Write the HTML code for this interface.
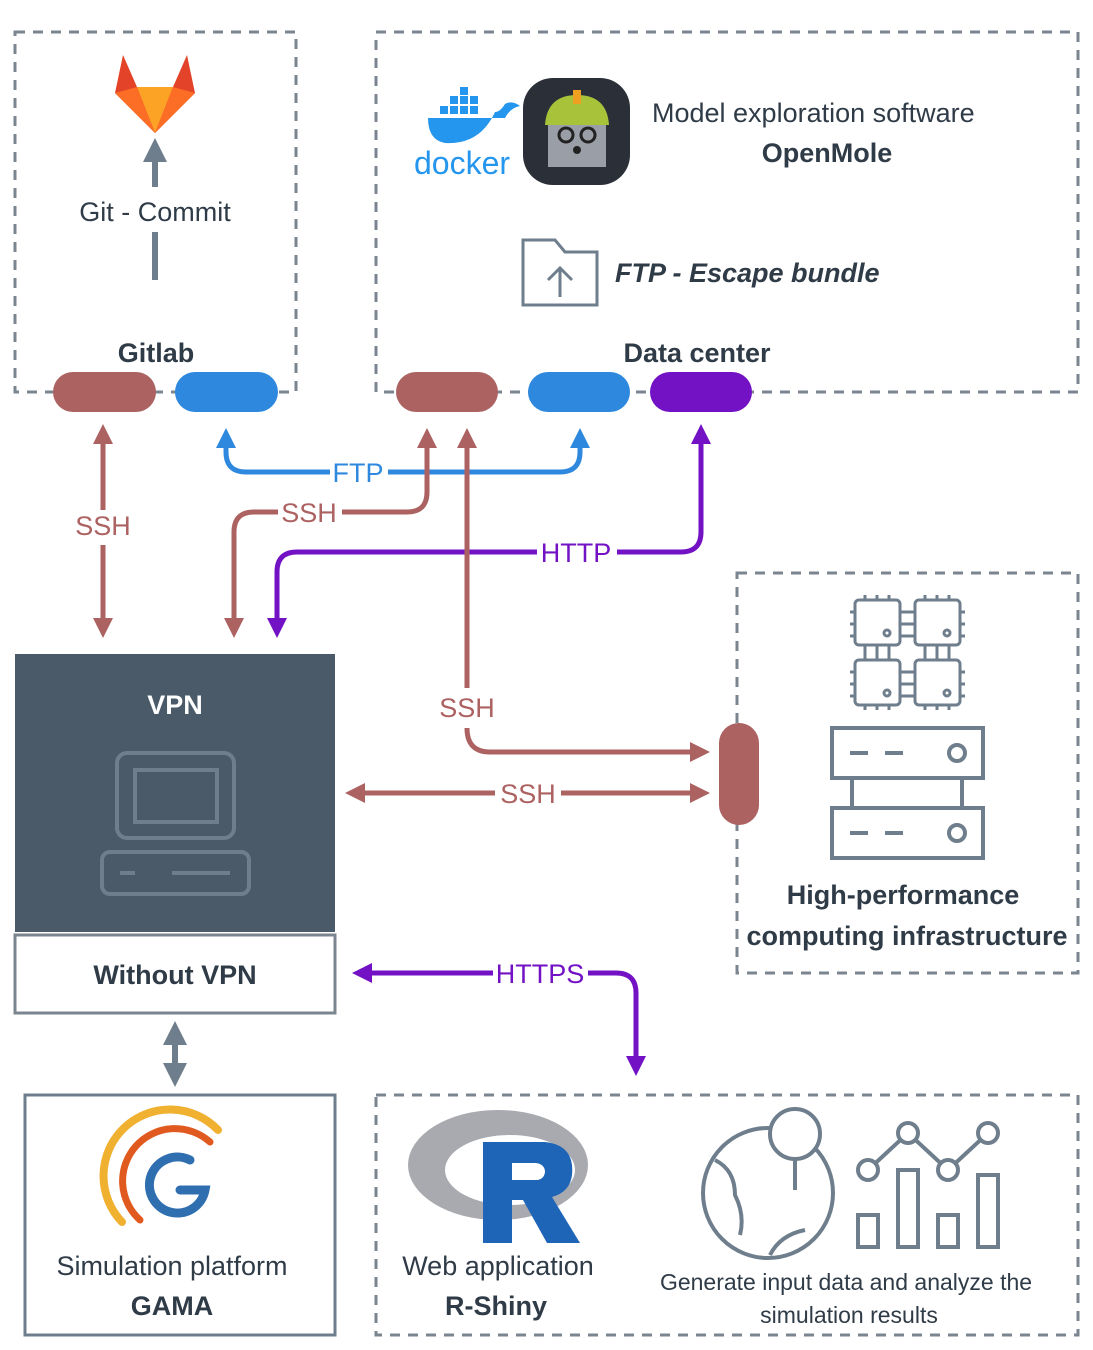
<!DOCTYPE html>
<html><head><meta charset="utf-8"><style>
html,body{margin:0;padding:0;background:#fff;}
svg{display:block;font-family:"Liberation Sans",sans-serif;}
</style></head><body>
<svg width="1093" height="1350" viewBox="0 0 1093 1350" xmlns="http://www.w3.org/2000/svg">
<defs>
<marker id="ar" viewBox="0 0 10 10" refX="5" refY="5" markerWidth="4" markerHeight="4" orient="auto-start-reverse"><path d="M0,0 L10,5 L0,10 z" fill="#ad6262"/></marker>
<marker id="ab" viewBox="0 0 10 10" refX="5" refY="5" markerWidth="4" markerHeight="4" orient="auto-start-reverse"><path d="M0,0 L10,5 L0,10 z" fill="#2e88dd"/></marker>
<marker id="ap" viewBox="0 0 10 10" refX="5" refY="5" markerWidth="4" markerHeight="4" orient="auto-start-reverse"><path d="M0,0 L10,5 L0,10 z" fill="#7212c4"/></marker>
<marker id="ag" viewBox="0 0 10 10" refX="5" refY="5" markerWidth="4" markerHeight="4" orient="auto-start-reverse"><path d="M0,0 L10,5 L0,10 z" fill="#6f7e8c"/></marker>
</defs>
<g fill="none" stroke="#7a8590" stroke-width="3" stroke-dasharray="10 8">
<rect x="15" y="32" width="281" height="360"/>
<rect x="376" y="32" width="702" height="360"/>
<rect x="737" y="573" width="341" height="400"/>
<rect x="376" y="1095" width="702" height="240"/>
</g>
<rect x="15" y="935" width="320" height="78" fill="#fff" stroke="#7a8590" stroke-width="3"/>
<!-- pills -->
<rect x="53" y="372" width="103" height="40" rx="20" fill="#ad6262"/>
<rect x="175" y="372" width="103" height="40" rx="20" fill="#2e88dd"/>
<rect x="396" y="372" width="102" height="40" rx="20" fill="#ad6262"/>
<rect x="528" y="372" width="102" height="40" rx="20" fill="#2e88dd"/>
<rect x="650" y="372" width="102" height="40" rx="20" fill="#7212c4"/>
<rect x="719" y="723" width="40" height="102" rx="20" fill="#ad6262"/>
<!-- gitlab logo -->
<g transform="translate(115,55)">
<path d="M40,78 L0,38 L8,0 L22,32 L58,32 L72,0 L80,38 Z" fill="#e24329"/>
<path d="M40,78 L22,32 L58,32 Z" fill="#fca326"/>
<path d="M0,38 L22,32 L40,78 Z" fill="#fc6d26"/>
<path d="M80,38 L58,32 L40,78 Z" fill="#fc6d26"/>
</g>
<line x1="155" y1="187" x2="155" y2="150" stroke="#6f7e8c" stroke-width="6" marker-end="url(#ag)"/>
<line x1="155" y1="232" x2="155" y2="280" stroke="#6f7e8c" stroke-width="6"/>
<g font-size="27" fill="#2f3b47">
<text x="155" y="221" text-anchor="middle">Git - Commit</text>
<text x="156" y="362" text-anchor="middle" font-weight="bold">Gitlab</text>
<text x="697" y="362" text-anchor="middle" font-weight="bold">Data center</text>
<text x="652" y="122">Model exploration software</text>
<text x="827" y="162" text-anchor="middle" font-weight="bold">OpenMole</text>
<text x="615" y="282" font-weight="bold" font-style="italic">FTP - Escape bundle</text>
<text x="903" y="904" text-anchor="middle" font-weight="bold">High-performance</text>
<text x="907" y="945" text-anchor="middle" font-weight="bold">computing infrastructure</text>
<text x="175" y="984" text-anchor="middle" font-weight="bold">Without VPN</text>
<text x="172" y="1275" text-anchor="middle">Simulation platform</text>
<text x="172" y="1315" text-anchor="middle" font-weight="bold">GAMA</text>
<text x="498" y="1275" text-anchor="middle">Web application</text>
<text x="496" y="1315" text-anchor="middle" font-weight="bold">R-Shiny</text>
</g>
<g font-size="23" fill="#2f3b47" text-anchor="middle">
<text x="846" y="1290">Generate input data and analyze the</text>
<text x="849" y="1323">simulation results</text>
</g>
<!-- docker -->
<g fill="#2496ed">
<path d="M428,118 L505,118 Q510,108 520,106 Q512,100 505,104 Q500,112 495,112 Q480,145 445,143 Q428,140 428,118 Z"/>
<rect x="440" y="106" width="8" height="8"/><rect x="450" y="106" width="8" height="8"/><rect x="460" y="106" width="8" height="8"/><rect x="470" y="106" width="8" height="8"/>
<rect x="450" y="96" width="8" height="8"/><rect x="460" y="96" width="8" height="8"/><rect x="470" y="96" width="8" height="8"/><rect x="460" y="87" width="8" height="8"/>
<text x="462" y="174" font-size="32" text-anchor="middle">docker</text>
</g>
<!-- openmole -->
<rect x="523" y="78" width="107" height="107" rx="30" fill="#2b2f38"/>
<path d="M545,125 Q547,95 577,95 Q607,95 609,125 Z" fill="#a8c23a"/>
<rect x="548" y="125" width="58" height="42" fill="#9a9ea6"/>
<circle cx="566" cy="135" r="7" fill="none" stroke="#222" stroke-width="3"/><circle cx="588" cy="135" r="7" fill="none" stroke="#222" stroke-width="3"/>
<circle cx="577" cy="150" r="4" fill="#222"/>
<rect x="573" y="90" width="8" height="14" fill="#f0a020"/>
<!-- folder -->
<path d="M523,240 L555,240 L565,252 L597,252 L597,305 L523,305 Z" fill="none" stroke="#6f7e8c" stroke-width="3"/>
<path d="M560,297 L560,268 M548,280 L560,268 L572,280" fill="none" stroke="#6f7e8c" stroke-width="3"/>
<!-- connectors -->
<g fill="none" stroke-width="5">
<line x1="103" y1="434" x2="103" y2="510" stroke="#ad6262" marker-start="url(#ar)"/>
<line x1="103" y1="545" x2="103" y2="628" stroke="#ad6262" marker-end="url(#ar)"/>
<path d="M226,438 L226,452 Q226,472 246,472 L330,472" stroke="#2e88dd" marker-start="url(#ab)"/>
<path d="M388,472 L560,472 Q580,472 580,452 L580,438" stroke="#2e88dd" marker-end="url(#ab)"/>
<path d="M427,438 L427,492 Q427,512 407,512 L342,512" stroke="#ad6262" marker-start="url(#ar)"/>
<path d="M278,512 L254,512 Q234,512 234,532 L234,628" stroke="#ad6262" marker-end="url(#ar)"/>
<path d="M701,434 L701,532 Q701,552 681,552 L617,552" stroke="#7212c4" marker-start="url(#ap)"/>
<path d="M537,552 L297,552 Q277,552 277,572 L277,628" stroke="#7212c4" marker-end="url(#ap)"/>
<path d="M467,438 L467,688" stroke="#ad6262" marker-start="url(#ar)"/>
<path d="M467,728 Q467,752 490,752 L700,752" stroke="#ad6262" marker-end="url(#ar)"/>
<line x1="355" y1="793" x2="495" y2="793" stroke="#ad6262" marker-start="url(#ar)"/>
<line x1="561" y1="793" x2="700" y2="793" stroke="#ad6262" marker-end="url(#ar)"/>
<line x1="362" y1="973" x2="493" y2="973" stroke="#7212c4" marker-start="url(#ap)"/>
<path d="M588,973 L616,973 Q636,973 636,993 L636,1066" stroke="#7212c4" marker-end="url(#ap)"/>
<line x1="175" y1="1033" x2="175" y2="1075" stroke="#6f7e8c" stroke-width="6" marker-start="url(#ag)" marker-end="url(#ag)"/>
</g>
<g font-size="27" text-anchor="middle">
<text x="103" y="535" fill="#ad6262">SSH</text>
<text x="358" y="482" fill="#2e88dd">FTP</text>
<text x="309" y="522" fill="#ad6262">SSH</text>
<text x="576" y="562" fill="#7212c4">HTTP</text>
<text x="467" y="717" fill="#ad6262">SSH</text>
<text x="528" y="803" fill="#ad6262">SSH</text>
<text x="540" y="983" fill="#7212c4">HTTPS</text>
</g>
<!-- VPN box -->
<rect x="15" y="654" width="320" height="278" fill="#4a5a69"/>
<text x="175" y="714" font-size="27" font-weight="bold" fill="#fff" text-anchor="middle">VPN</text>
<g fill="none" stroke="#6f7e8c" stroke-width="4">
<rect x="117" y="753" width="117" height="85" rx="10"/>
<rect x="135" y="770" width="82" height="52"/>
<rect x="102" y="852" width="147" height="42" rx="8"/>
<line x1="120" y1="873" x2="135" y2="873"/><line x1="172" y1="873" x2="230" y2="873"/>
</g>
<!-- GAMA box -->
<rect x="25" y="1095" width="310" height="240" fill="none" stroke="#6f7e8c" stroke-width="3"/>
<g fill="none" stroke-linecap="round">
<path d="M122,1222 A55,55 0 0 1 218,1130" stroke="#f0b030" stroke-width="8"/>
<path d="M140,1220 A43,43 0 0 1 210,1142" stroke="#e05a20" stroke-width="7"/>
<path d="M190,1160 A28,28 0 1 0 205,1190 L180,1190" stroke="#2f6fb0" stroke-width="9"/>
</g>
<!-- R logo -->
<ellipse cx="498" cy="1165" rx="90" ry="55" fill="#a8aab0"/>
<ellipse cx="510" cy="1170" rx="65" ry="35" fill="#fff"/>
<path d="M483,1142 L545,1142 Q575,1145 572,1175 Q570,1192 552,1197 L580,1243 L547,1243 L523,1200 L512,1200 L512,1243 L483,1243 Z M512,1163 L512,1180 L538,1180 Q545,1178 545,1171 Q544,1164 536,1163 Z" fill="#1f65b7" fill-rule="evenodd"/>
<!-- globe & chart -->
<g fill="none" stroke="#6f7e8c" stroke-width="4">
<circle cx="768" cy="1193" r="65"/>
<circle cx="795" cy="1134" r="25" fill="#fff"/>
<line x1="795" y1="1160" x2="795" y2="1190"/>
<path d="M715,1160 Q735,1170 735,1195 Q745,1215 740,1235 M770,1255 Q780,1235 805,1230"/>
<rect x="858" y="1215" width="20" height="32"/><rect x="898" y="1170" width="20" height="77"/><rect x="938" y="1215" width="20" height="32"/><rect x="978" y="1175" width="20" height="72"/>
<polyline points="868,1170 908,1133 948,1170 988,1133"/>
<circle cx="868" cy="1170" r="10" fill="#fff"/><circle cx="908" cy="1133" r="10" fill="#fff"/><circle cx="948" cy="1170" r="10" fill="#fff"/><circle cx="988" cy="1133" r="10" fill="#fff"/>
</g>
<!-- HPC icons -->
<g fill="none" stroke="#6f7e8c" stroke-width="3">
<rect x="855" y="600" width="45" height="45" rx="4"/><rect x="915" y="600" width="45" height="45" rx="4"/>
<rect x="855" y="660" width="45" height="45" rx="4"/><rect x="915" y="660" width="45" height="45" rx="4"/>
<circle cx="887" cy="633" r="3"/><circle cx="947" cy="633" r="3"/><circle cx="887" cy="693" r="3"/><circle cx="947" cy="693" r="3"/>
<path d="M865,595v5M877,595v5M889,595v5M925,595v5M937,595v5M949,595v5M865,645v15M877,645v15M889,645v15M925,645v15M937,645v15M949,645v15M865,705v5M877,705v5M889,705v5M925,705v5M937,705v5M949,705v5M850,612h5M850,624h5M850,636h5M900,612h15M900,624h15M900,636h15M960,612h5M960,624h5M960,636h5M850,672h5M850,684h5M850,696h5M900,672h15M900,684h15M900,696h15M960,672h5M960,684h5M960,696h5"/>
</g>
<g fill="none" stroke="#6f7e8c" stroke-width="4">
<rect x="832" y="728" width="151" height="50"/><rect x="832" y="808" width="151" height="50"/>
<line x1="852" y1="778" x2="852" y2="808"/><line x1="962" y1="778" x2="962" y2="808"/>
<line x1="850" y1="753" x2="868" y2="753"/><line x1="885" y1="753" x2="903" y2="753"/><circle cx="957" cy="753" r="8"/>
<line x1="850" y1="833" x2="868" y2="833"/><line x1="885" y1="833" x2="903" y2="833"/><circle cx="957" cy="833" r="8"/>
</g>
</svg>
</body></html>
